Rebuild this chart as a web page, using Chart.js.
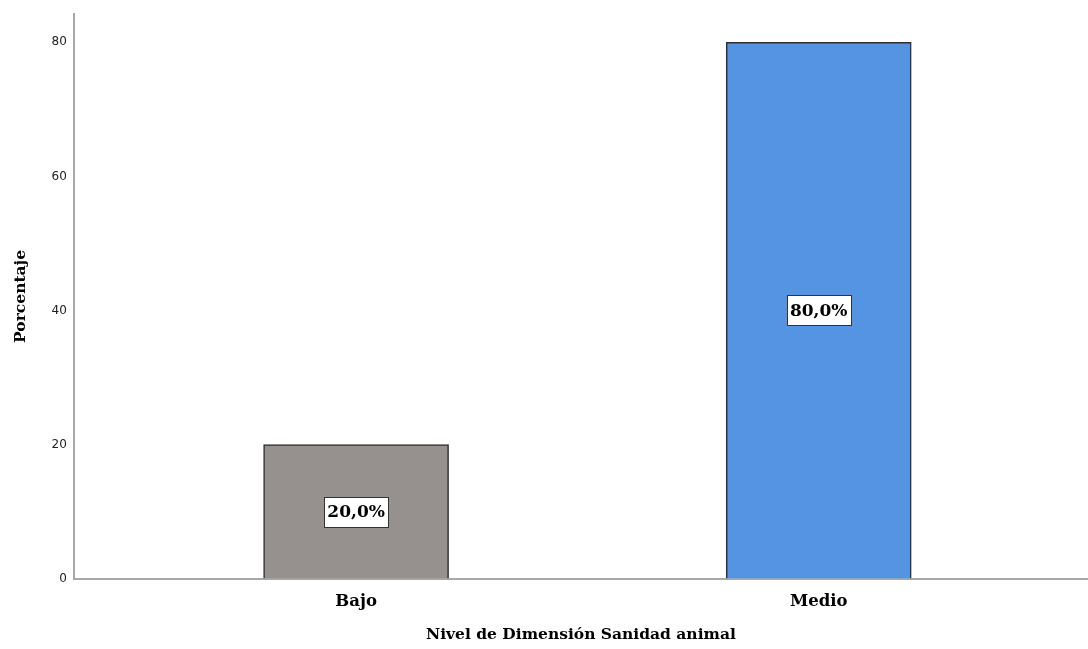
<!DOCTYPE html>
<html>
<head>
<meta charset="utf-8">
<script src="https://cdn.jsdelivr.net/npm/chart.js@4"></script>
<style>
  html, body { margin: 0; padding: 0; background: #fff; }
  #wrap { width: 1088px; height: 649px; position: relative; }
</style>
</head>
<body>
<div id="wrap"><canvas id="dataChart"></canvas></div>
<script>
// chart data
const categories = ['Bajo', 'Medio'];
const percentages = [20.0, 80.0];
const barColors = ['#96918f', '#5594e3'];
const yTicks = [0, 20, 40, 60, 80];

const serif = '"DejaVu Serif", "Liberation Serif", serif';

// draws the white value boxes in the middle of each bar
const valueBoxes = {
    id: 'valueBoxes',
    afterDatasetsDraw(chart) {
        const ctx = chart.ctx;
        const meta = chart.getDatasetMeta(0);
        const yScale = chart.scales.y;
        ctx.save();
        ctx.font = 'bold 17px ' + serif;
        ctx.textAlign = 'center';
        ctx.textBaseline = 'middle';
        meta.data.forEach((bar, i) => {
            const text = percentages[i].toFixed(1).replace('.', ',') + '%';
            const cy = yScale.getPixelForValue(percentages[i] / 2);
            const w = Math.round(ctx.measureText(text).width + 6);
            const h = 30;
            const x0 = Math.round(bar.x - w / 2);
            const y0 = Math.round(cy - h / 2);
            ctx.fillStyle = '#fff';
            ctx.fillRect(x0, y0, w, h);
            ctx.strokeStyle = '#333';
            ctx.lineWidth = 1;
            ctx.strokeRect(x0 + 0.5, y0 + 0.5, w, h);
            ctx.fillStyle = '#000';
            ctx.fillText(text, bar.x, cy + 1);
        });
        ctx.restore();
    }
};

const chart = new Chart(document.getElementById('dataChart').getContext('2d'), {
    type: 'bar',
    data: {
        datasets: [{
            label: 'Porcentaje',
            data: categories.map((c, i) => ({ x: i, y: percentages[i] })),
            backgroundColor: barColors,
            borderColor: '#2e2e2e',
            borderWidth: 1.5,
            barThickness: 185
        }]
    },
    options: {
        responsive: true,
        maintainAspectRatio: false,
        animation: false,
        layout: { padding: { top: 13, right: 0, left: 12, bottom: 5 } },
        plugins: {
            legend: { display: false },
            tooltip: { enabled: false }
        },
        scales: {
            x: {
                type: 'linear',
                offset: false,
                min: -0.61,
                max: 1.582,
                afterBuildTicks: axis => { axis.ticks = categories.map((c, i) => ({ value: i })); },
                grid: { display: false, drawTicks: false, offset: false },
                border: { color: '#a8a8a8', width: 2 },
                ticks: {
                    padding: 13,
                    color: '#000',
                    font: { family: serif, weight: 'bold', size: 16.5 },
                    callback: v => categories[v]
                },
                title: {
                    display: true,
                    text: 'Nivel de Dimensión Sanidad animal',
                    color: '#000',
                    font: { family: serif, weight: 'bold', size: 15.5 },
                    padding: { top: 1, bottom: 0 }
                }
            },
            y: {
                min: 0,
                max: 84.2,
                afterBuildTicks: axis => { axis.ticks = yTicks.map(v => ({ value: v })); },
                grid: { display: false, drawTicks: false },
                border: { color: '#a8a8a8', width: 2 },
                ticks: {
                    padding: 7,
                    color: '#222',
                    font: { family: '"DejaVu Sans", sans-serif', size: 12 }
                },
                title: {
                    display: true,
                    text: 'Porcentaje',
                    color: '#000',
                    font: { family: serif, weight: 'bold', size: 15.5 },
                    padding: { top: 0, bottom: 14 }
                }
            }
        }
    },
    plugins: [valueBoxes]
});
</script>
</body>
</html>
